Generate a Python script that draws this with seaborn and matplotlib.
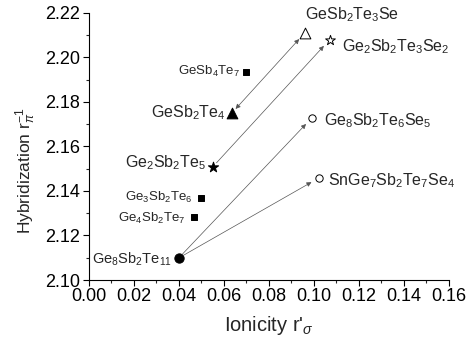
import seaborn as sns
import numpy as np
import matplotlib.pyplot as plt
import pandas as pd

# data
names = ['Ge8Sb2Te11', 'Ge4Sb2Te7', 'Ge3Sb2Te6', 'Ge2Sb2Te5', 'GeSb2Te4', 'GeSb4Te7',
         'GeSb2Te3Se', 'Ge2Sb2Te3Se2', 'Ge8Sb2Te6Se5', 'SnGe7Sb2Te7Se4']
labels = [r'$\mathrm{Ge_8Sb_2Te_{11}}$', r'$\mathrm{Ge_4Sb_2Te_7}$', r'$\mathrm{Ge_3Sb_2Te_6}$',
          r'$\mathrm{Ge_2Sb_2Te_5}$', r'$\mathrm{GeSb_2Te_4}$', r'$\mathrm{GeSb_4Te_7}$',
          r'$\mathrm{GeSb_2Te_3Se}$', r'$\mathrm{Ge_2Sb_2Te_3Se_2}$',
          r'$\mathrm{Ge_8Sb_2Te_6Se_5}$', r'$\mathrm{SnGe_7Sb_2Te_7Se_4}$']
ionicity = [0.0400, 0.0467, 0.0498, 0.0551, 0.0636, 0.0698, 0.0960, 0.1070, 0.0991, 0.1022]
hybrid = [2.1099, 2.1283, 2.1369, 2.1508, 2.1750, 2.1935, 2.2110, 2.2079, 2.1728, 2.1458]
marker = ['o', 's', 's', '*', '^', 's', '^', '*', 'o', 'o']
filled = [True, True, True, True, True, True, False, False, False, False]
msize = [45, 25, 25, 60, 60, 25, 60, 55, 28, 28]
# arrows: (from, to, double headed)
arrows = [('GeSb2Te4', 'GeSb2Te3Se', True),
          ('Ge2Sb2Te5', 'Ge2Sb2Te3Se2', False),
          ('Ge8Sb2Te11', 'Ge8Sb2Te6Se5', False),
          ('Ge8Sb2Te11', 'SnGe7Sb2Te7Se4', False)]

df = pd.DataFrame({'name': names, 'x': ionicity, 'y': hybrid, 'm': marker,
                   'filled': filled, 's': msize})

sns.set_style('ticks')
plt.rcParams['font.family'] = ['Liberation Sans', 'DejaVu Sans']
plt.rcParams['mathtext.fontset'] = 'custom'
plt.rcParams['mathtext.rm'] = 'Liberation Sans'
plt.rcParams['mathtext.it'] = 'Liberation Sans:italic'

fig = plt.figure(figsize=(4.67, 3.47), dpi=100)
ax = fig.add_axes([0.19, 0.193, 0.771, 0.77])

for i, row in df.iterrows():
    sns.scatterplot(x=[row.x], y=[row.y], marker=row.m, s=row.s, ax=ax,
                    color='black' if row.filled else 'white',
                    edgecolor='black', linewidth=0.7, zorder=3)

pos = dict(zip(names, zip(ionicity, hybrid)))
for a, b, both in arrows:
    ax.annotate('', xy=pos[b], xytext=pos[a],
                arrowprops=dict(arrowstyle='<|-|>' if both else '-|>', color='#555555',
                                lw=0.5, mutation_scale=7, shrinkA=4, shrinkB=6))

# label placement: (dx, dy in points, ha, fontsize)
lab_opts = {
    'Ge8Sb2Te11': (-5, -1, 'right', 10.5),
    'Ge4Sb2Te7': (-6, -1, 'right', 9.5),
    'Ge3Sb2Te6': (-6, 0, 'right', 9.5),
    'Ge2Sb2Te5': (-5, 3, 'right', 11.5),
    'GeSb2Te4': (-5, 0, 'right', 11.5),
    'GeSb4Te7': (-4, 0, 'right', 9.5),
    'GeSb2Te3Se': (0, 13, 'left', 11.5),
    'Ge2Sb2Te3Se2': (9, -5, 'left', 11.5),
    'Ge8Sb2Te6Se5': (9, -2, 'left', 11.5),
    'SnGe7Sb2Te7Se4': (7, -2, 'left', 11.5),
}
for n, lab, x, y in zip(names, labels, ionicity, hybrid):
    dx, dy, ha, fs = lab_opts[n]
    ax.annotate(lab, (x, y), xytext=(dx, dy), textcoords='offset points',
                ha=ha, va='center', fontsize=fs)

ax.set_xlim(0, 0.16)
ax.set_ylim(2.10, 2.22)
ax.set_xticks(np.arange(0, 0.161, 0.02))
ax.set_yticks(np.arange(2.10, 2.221, 0.02))
ax.set_xticks(np.arange(0, 0.161, 0.01), minor=True)
ax.set_yticks(np.arange(2.10, 2.221, 0.01), minor=True)
ax.set_xticklabels([f'{v:.2f}' for v in np.arange(0, 0.161, 0.02)])
ax.set_yticklabels([f'{v:.2f}' for v in np.arange(2.10, 2.221, 0.02)])
ax.tick_params(which='major', direction='out', length=4, width=0.8, labelsize=13,
               colors='black', pad=2)
ax.tick_params(which='minor', direction='out', length=2.5, width=0.8)
ax.set_xlabel(r"Ionicity r'$_\sigma$", fontsize=14.5, labelpad=6)
ax.set_ylabel(r'Hybridization r$^{-1}_{\pi}$', fontsize=12.5)
ax.yaxis.set_label_coords(-0.14, 0.41)
for sp in ['top', 'right']:
    ax.spines[sp].set_visible(False)
for sp in ['left', 'bottom']:
    ax.spines[sp].set_color('black')
    ax.spines[sp].set_linewidth(0.8)

fig.savefig('out.png', dpi=100)
